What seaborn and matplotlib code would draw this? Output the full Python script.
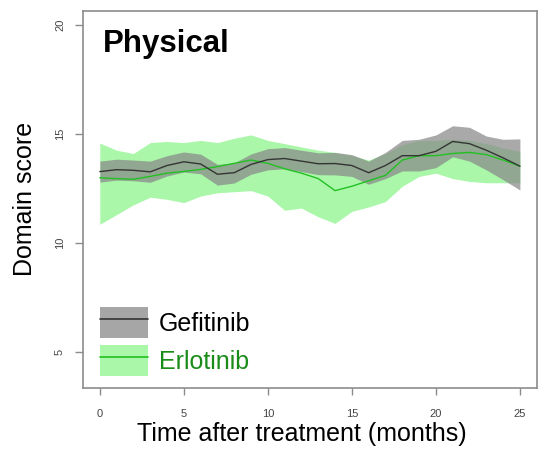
import matplotlib
matplotlib.use("Agg")
import matplotlib.pyplot as plt
from matplotlib.patches import Patch
from matplotlib.lines import Line2D
import seaborn as sns
import pandas as pd

# Smoothed domain score over time, with confidence bands
months = list(range(26))

gef_mean = [13.27, 13.36, 13.33, 13.26, 13.55, 13.72, 13.62, 13.15, 13.22, 13.60,
            13.82, 13.87, 13.75, 13.63, 13.64, 13.55, 13.22, 13.55, 14.00, 14.00,
            14.20, 14.65, 14.55, 14.25, 13.90, 13.52]
gef_upper = [13.75, 13.84, 13.80, 13.75, 14.00, 14.17, 14.07, 13.60, 13.67, 14.08,
             14.32, 14.37, 14.25, 14.13, 14.15, 14.05, 13.75, 14.15, 14.70, 14.75,
             14.95, 15.37, 15.30, 14.90, 14.75, 14.77]
gef_lower = [12.79, 12.88, 12.85, 12.78, 13.07, 13.25, 13.17, 12.65, 12.75, 13.15,
             13.35, 13.40, 13.27, 13.13, 13.12, 13.05, 12.69, 12.95, 13.30, 13.30,
             13.45, 13.95, 13.75, 13.35, 12.90, 12.43]

erl_mean = [12.99, 12.95, 12.92, 13.05, 13.20, 13.28, 13.37, 13.50, 13.65, 13.80,
            13.65, 13.40, 13.20, 12.95, 12.40, 12.60, 12.85, 13.10, 13.80, 14.00,
            14.00, 14.10, 14.15, 14.05, 13.80, 13.52]
erl_upper = [14.58, 14.25, 14.10, 14.60, 14.65, 14.60, 14.70, 14.60, 14.80, 14.95,
             14.70, 14.55, 14.40, 14.25, 14.15, 14.00, 13.80, 14.10, 14.50, 14.70,
             14.70, 14.75, 14.70, 14.55, 14.35, 14.20]
erl_lower = [10.86, 11.30, 11.75, 12.10, 12.00, 11.85, 12.15, 12.30, 12.35, 12.40,
             12.15, 11.50, 11.60, 11.20, 10.90, 11.45, 11.65, 11.90, 12.60, 13.05,
             13.20, 12.95, 12.82, 12.76, 12.76, 12.76]

x_ticks = [0, 5, 10, 15, 20, 25]
y_ticks = [5, 10, 15, 20]

GRAY_BAND = "#888888"
GREEN_BAND = "#aaf7aa"
GEF_LINE = "#353535"
ERL_LINE = "#22c022"
FRAME = "#8c8c8c"

sns.set_style("white")
plt.rcParams["font.family"] = ["Liberation Sans", "DejaVu Sans"]
plt.rcParams["text.color"] = "black"
plt.rcParams["axes.labelcolor"] = "black"

df = pd.concat([
    pd.DataFrame({"month": months, "score": gef_mean, "drug": "Gefitinib"}),
    pd.DataFrame({"month": months, "score": erl_mean, "drug": "Erlotinib"}),
])

fig = plt.figure(figsize=(5.38, 4.49), dpi=100)
ax = fig.add_axes([83 / 538, 1 - 388 / 449, 453.7 / 538, 377.3 / 449])

ax.fill_between(months, erl_lower, erl_upper, color=GREEN_BAND, lw=0, zorder=1)
ax.fill_between(months, gef_lower, gef_upper, color=GRAY_BAND, alpha=0.72, lw=0, zorder=2)

sns.lineplot(data=df, x="month", y="score", hue="drug",
             palette={"Gefitinib": GEF_LINE, "Erlotinib": ERL_LINE},
             hue_order=["Erlotinib", "Gefitinib"], linewidth=1.0,
             legend=False, ax=ax, zorder=3)
for ln in ax.lines:
    ln.set_solid_joinstyle("round")

ax.set_xlim(-1.0, 26.0)
ax.set_ylim(3.36, 20.64)
ax.set_xticks(x_ticks)
ax.set_yticks(y_ticks)
ax.set_xticklabels([str(t) for t in x_ticks], fontsize=8, color="#444444")
ax.set_yticklabels([str(t) for t in y_ticks], fontsize=8, color="#444444",
                   rotation=90, va="center")
ax.tick_params(axis="x", length=5, width=1, color=FRAME, pad=10, bottom=True)
ax.tick_params(axis="y", length=6, width=1, color=FRAME, pad=7, left=True)

for sp in ax.spines.values():
    sp.set_color(FRAME)
    sp.set_linewidth(1.2)

ax.set_xlabel("Time after treatment (months)", fontsize=18)
ax.xaxis.label.set_va("center")
ax.xaxis.set_label_coords((301.7 - 83) / 453.7, -(434 - 388) / 377.3)
ax.set_ylabel("Domain score", fontsize=18)
ax.yaxis.label.set_va("center")
ax.yaxis.set_label_coords(-(83 - 25) / 453.7, 0.5)

ax.text(0.0434, 0.8905, "Physical", transform=ax.transAxes, fontsize=22.5,
        fontweight="bold", va="baseline", ha="left")

handles = [
    (Patch(facecolor="#a6a6a6", edgecolor="none"), Line2D([], [], color=GEF_LINE, lw=1.2)),
    (Patch(facecolor=GREEN_BAND, edgecolor="none"), Line2D([], [], color=ERL_LINE, lw=1.2)),
]
leg = ax.legend(handles, ["Gefitinib", "Erlotinib"], loc="lower left",
                bbox_to_anchor=((100 - 83) / 453.7, (388 - 376) / 377.3),
                frameon=False, fontsize=18,
                handlelength=1.9, handleheight=1.55, handletextpad=0.45,
                labelspacing=0.25, borderpad=0.0, borderaxespad=0.0)
leg.get_texts()[1].set_color("#1a8c1a")

fig.savefig("out.png", dpi=100)
